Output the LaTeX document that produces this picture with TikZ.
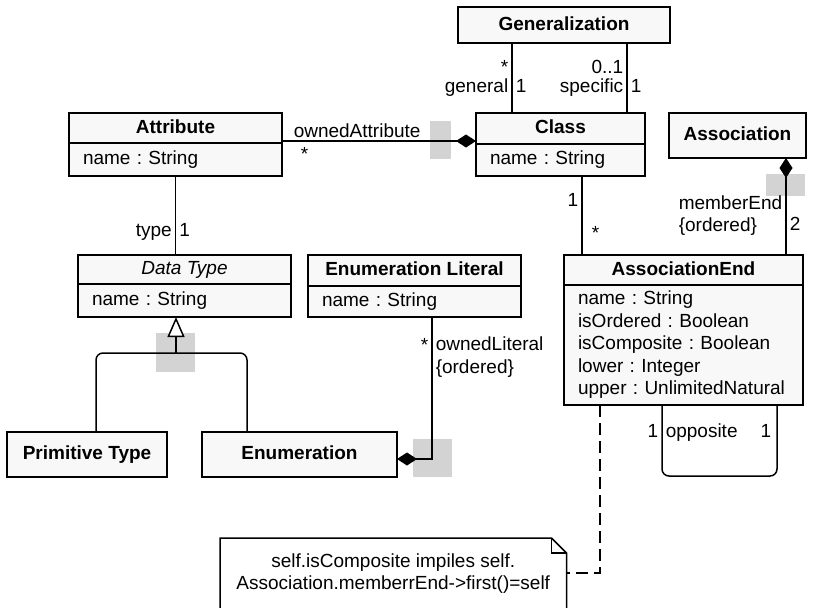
\documentclass[tikz,border=0pt]{standalone}
\usepackage{fontspec}
\setmainfont{Liberation Sans}
\usetikzlibrary{arrows.meta,positioning}
\definecolor{boxfill}{RGB}{248,248,248}
\definecolor{handle}{RGB}{211,211,211}
\newcommand{\umlfont}{\fontsize{19}{22.5}\selectfont}
\frenchspacing

\begin{document}
\begin{tikzpicture}[x=1pt,y=-1pt,line width=1.5pt,font=\umlfont,
    box/.style={draw,fill=boxfill,inner xsep=14pt,inner ysep=0pt,outer sep=0pt},
    title/.style={box,font=\umlfont\bfseries,text height=14pt,text depth=4pt},
    attrs/.style={box,align=left,below=0pt of #1},
    lbl/.style={inner sep=3pt},
    comp/.style={-{Diamond[length=20pt,width=13pt]}},
    compback/.style={{Diamond[length=20pt,width=13pt]}-}]
  \useasboundingbox (0,0) rectangle (817,608);

  % selection handles
  \fill[handle] (430,121) rectangle (451,159);
  \fill[handle] (766,174) rectangle (805,196);
  \fill[handle] (156,333) rectangle (195,372);
  \fill[handle] (413,439) rectangle (452,477);

  % classes
  \node[title,minimum width=212pt,minimum height=36pt,anchor=north west] (gen) at (458,7) {Generalization};
  \node[title,minimum width=169pt,minimum height=31pt,anchor=north west] (cls) at (476,113) {Class};
  \node[attrs=cls,text width=141pt,minimum height=32pt] (clsA) {name : String};
  \node[title,minimum width=137pt,minimum height=45pt,anchor=north west] (assoc) at (669,113) {Association};
  \node[title,minimum width=213pt,minimum height=30pt,anchor=north west] (attr) at (69,113) {Attribute};
  \node[attrs=attr,text width=185pt,minimum height=33pt] (attrA) {name : String};
  \node[title,font=\umlfont\itshape,minimum width=213pt,minimum height=29pt,anchor=north west] (dt) at (78,255) {Data Type};
  \node[attrs=dt,text width=185pt,minimum height=33pt] (dtA) {name : String};
  \node[title,minimum width=213pt,minimum height=31pt,anchor=north west] (lit) at (308,255) {Enumeration Literal};
  \node[attrs=lit,text width=185pt,minimum height=31pt] (litA) {name : String};
  \node[title,minimum width=239pt,minimum height=30pt,anchor=north west] (aend) at (564,255) {AssociationEnd};
  \node[attrs=aend,text width=211pt,minimum height=120pt] (aendA) {name : String\\isOrdered : Boolean\\isComposite : Boolean\\lower : Integer\\upper : UnlimitedNatural};
  \node[title,minimum width=160pt,minimum height=45pt,anchor=north west] (prim) at (7,432) {Primitive Type};
  \node[title,minimum width=195pt,minimum height=45pt,anchor=north west] (enum) at (202,432) {Enumeration};

  % generalization ends
  \draw ([xshift=54pt]gen.south west) -- ([xshift=54pt]gen.south west |- cls.north)
    node[lbl,anchor=base east,pos=0.43] {*}
    node[lbl,anchor=base east,pos=0.714] {general}
    node[lbl,anchor=base west,pos=0.714] {1};
  \draw ([xshift=169pt]gen.south west) -- ([xshift=169pt]gen.south west |- cls.north)
    node[lbl,anchor=base east,pos=0.43] {0..1}
    node[lbl,anchor=base east,pos=0.714] {specific}
    node[lbl,anchor=base west,pos=0.714] {1};

  % owned attributes
  \draw[comp] ([yshift=-28pt]attr.north east) -- ([yshift=-28pt]attr.north east -| cls.west)
    node[lbl,anchor=south west,pos=0,xshift=8pt] {ownedAttribute}
    node[lbl,anchor=north west,pos=0,xshift=15pt,yshift=-3pt] {*};

  % class - association end
  \draw ([xshift=106pt]clsA.south west) -- ([xshift=106pt]clsA.south west |- aend.north)
    node[lbl,anchor=base east,pos=0.38] {1}
    node[lbl,anchor=base west,pos=0.8,xshift=6pt] {*};

  % member ends
  \draw[compback] ([xshift=117pt]assoc.south west) -- ([xshift=117pt]assoc.south west |- aend.north)
    node[lbl,anchor=south east,align=left,pos=0.84] {memberEnd\\\{ordered\}}
    node[lbl,anchor=base west,pos=0.75] {2};

  % attribute type
  \draw (attrA.south) -- (attrA.south |- dt.north)
    node[lbl,anchor=base east,pos=0.77] {type}
    node[lbl,anchor=base west,pos=0.77] {1};

  % data type specializations
  \coordinate (fork) at ([xshift=98pt,yshift=-36pt]dtA.south west);
  \draw[rounded corners=7pt] ([xshift=89pt]prim.north west) |- (fork) -| ([xshift=45pt]enum.north west);
  \draw[-{Triangle[open,fill=white,length=20pt,width=17pt]}] (fork) -- (fork |- dtA.south);

  % literals
  \draw[compback] ([yshift=-27pt]enum.north east) -| ([xshift=124pt]litA.south west)
    node[lbl,anchor=north west,pos=1,yshift=-16pt,align=left] {ownedLiteral\\\{ordered\}}
    node[lbl,anchor=north east,pos=1,yshift=-18pt] {*};

  % opposite
  \draw[rounded corners=7pt] ([xshift=98pt]aendA.south west)
      node[lbl,anchor=base east,yshift=-32pt] {1}
      node[lbl,anchor=base west,yshift=-32pt] {opposite}
    -- ++(0,71) -| ([xshift=213pt]aendA.south west)
      node[lbl,anchor=base east,yshift=-32pt,xshift=-2pt] {1};

  % constraint note
  \node[lbl,align=center,minimum width=345pt,minimum height=70pt,anchor=north west] (cmt) at (220,538)
    {self.isComposite impiles self.\\Association.memberrEnd->first()=self};
  \draw (cmt.south west) |- ([xshift=-15pt]cmt.north east) -- ([yshift=-15pt]cmt.north east) -- (cmt.south east);
  \draw ([xshift=-15pt]cmt.north east) |- ([yshift=-15pt]cmt.north east);
  \draw[dash pattern=on 12pt off 6pt] ([xshift=36pt]aendA.south west) |- ([yshift=-35pt]cmt.north east);
\end{tikzpicture}
\end{document}
